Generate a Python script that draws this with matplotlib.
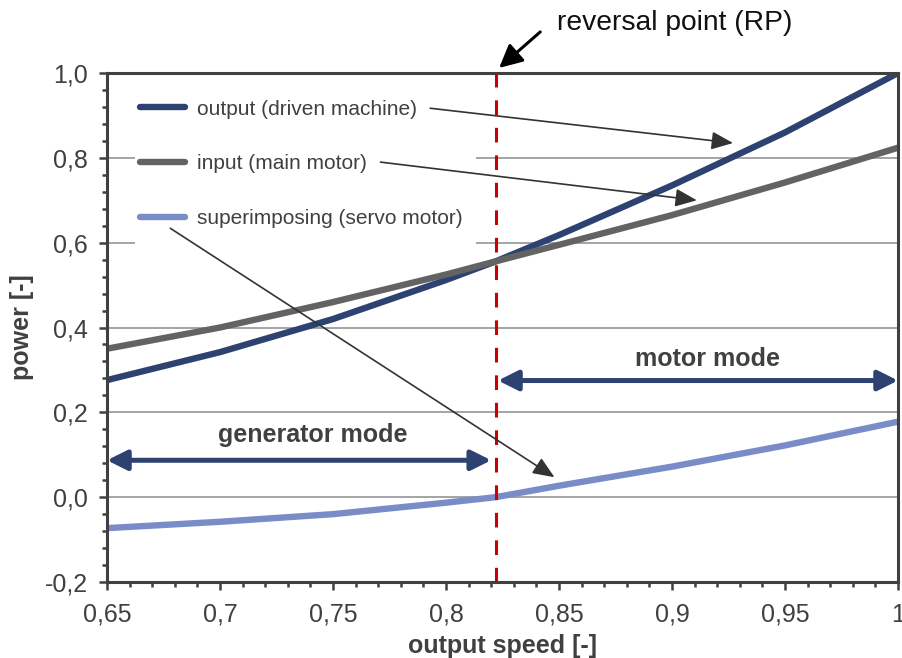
import matplotlib
matplotlib.use("Agg")
import matplotlib.pyplot as plt
from matplotlib.ticker import MultipleLocator, FixedLocator, FixedFormatter
from matplotlib.patches import Rectangle

plt.rcParams['font.family'] = ['Liberation Sans', 'DejaVu Sans']

# values
speed = [0.65, 0.70, 0.75, 0.80, 0.822, 0.85, 0.90, 0.95, 1.00]
output_power = [0.276, 0.342, 0.420, 0.512, 0.556, 0.618, 0.735, 0.860, 1.000]
input_power = [0.350, 0.400, 0.460, 0.525, 0.556, 0.595, 0.665, 0.742, 0.824]
servo_power = [-0.073, -0.058, -0.040, -0.013, 0.000, 0.027, 0.072, 0.122, 0.178]

series_labels = ["output (driven machine)", "input (main motor)",
                 "superimposing (servo motor)"]
series_colors = ["#2E4272", "#636363", "#7A8CC8"]

reversal_speed = 0.822
generator_range = [0.65, 0.82]
generator_level = 0.087
motor_range = [0.823, 1.0]
motor_level = 0.275

x_ticks = [0.65, 0.70, 0.75, 0.80, 0.85, 0.90, 0.95, 1.00]
x_tick_labels = ["0,65", "0,7", "0,75", "0,8", "0,85", "0,9", "0,95", "1"]
y_ticks = [-0.2, 0.0, 0.2, 0.4, 0.6, 0.8, 1.0]
y_tick_labels = ["-0,2", "0,0", "0,2", "0,4", "0,6", "0,8", "1,0"]

dark = "#404040"

fig = plt.figure(figsize=(9.03, 6.58), dpi=100)
ax = fig.add_axes([0.1185, 0.1155, 0.876, 0.7735])

ax.set_axisbelow(True)
ax.yaxis.grid(True, color="#8C8C8C", lw=1.1)

# white box behind the legend hides the gridlines
ax.add_patch(Rectangle((0.0354, 0.652), 0.431, 0.334, transform=ax.transAxes,
                       facecolor="white", edgecolor="none", zorder=1))

for vals, lab, col in zip([output_power, input_power, servo_power],
                          series_labels, series_colors):
    ax.plot(speed, vals, color=col, lw=4.6, label=lab, zorder=2)

ax.axvline(reversal_speed, color="#CC0000", lw=2.2, dashes=(4.8, 4.2), zorder=3)

ax.set_xlim(0.65, 1.0)
ax.set_ylim(-0.2, 1.0)
ax.xaxis.set_major_locator(FixedLocator(x_ticks))
ax.xaxis.set_major_formatter(FixedFormatter(x_tick_labels))
ax.yaxis.set_major_locator(FixedLocator(y_ticks))
ax.yaxis.set_major_formatter(FixedFormatter(y_tick_labels))
ax.xaxis.set_minor_locator(MultipleLocator(0.01))
ax.yaxis.set_minor_locator(MultipleLocator(0.04))

ax.tick_params(which="both", direction="out", color=dark, width=1.8)
ax.tick_params(which="major", length=5.8, labelsize=18, labelcolor=dark)
ax.tick_params(axis="x", which="major", pad=9)
ax.tick_params(axis="y", which="major", pad=8)
ax.tick_params(which="minor", length=3.6)

for sp in ax.spines.values():
    sp.set_color(dark)
    sp.set_linewidth(2.2)

ax.set_xlabel("output speed [-]", fontsize=18, fontweight="bold", color=dark, labelpad=5)
ax.set_ylabel("power [-]", fontsize=18, fontweight="bold", color=dark, labelpad=8)

leg = ax.legend(loc="upper left", bbox_to_anchor=(0.0417, 0.948), frameon=False,
                fontsize=15, handlelength=2.15, handletextpad=0.6,
                labelspacing=1.72, borderpad=0, borderaxespad=0)
for t in leg.get_texts():
    t.set_color(dark)
for h in leg.get_lines():
    h.set_linewidth(4.6)
    h.set_solid_capstyle("round")

# pointers from legend entries to the curves
pointer = dict(arrowstyle="-|>,head_length=0.6,head_width=0.25", color="#333333",
               lw=1.2, mutation_scale=22, shrinkA=0, shrinkB=0)
ax.annotate("", xy=(0.927, 0.835), xytext=(0.793, 0.917), arrowprops=pointer)
ax.annotate("", xy=(0.911, 0.700), xytext=(0.771, 0.790), arrowprops=pointer)
ax.annotate("", xy=(0.848, 0.047), xytext=(0.678, 0.634), arrowprops=pointer)

# operating mode ranges
mode_arrow = dict(arrowstyle="<|-|>,head_length=0.6,head_width=0.3",
                  color=series_colors[0], lw=3.6, mutation_scale=20,
                  shrinkA=0, shrinkB=0)
ax.annotate("", xy=(generator_range[1], generator_level),
            xytext=(generator_range[0], generator_level), arrowprops=mode_arrow)
ax.annotate("", xy=(motor_range[1], motor_level),
            xytext=(motor_range[0], motor_level), arrowprops=mode_arrow,
            annotation_clip=False)
ax.text(0.741, 0.147, "generator mode", ha="center", va="center",
        fontsize=18, fontweight="bold", color=dark)
ax.text(0.9155, 0.326, "motor mode", ha="center", va="center",
        fontsize=18, fontweight="bold", color=dark)

# reversal point callout
ax.annotate("", xy=(0.8235, 1.012), xytext=(0.8417, 1.097),
            arrowprops=dict(arrowstyle="-|>,head_length=0.7,head_width=0.35",
                            color="black", lw=2.2, mutation_scale=20,
                            shrinkA=0, shrinkB=0),
            annotation_clip=False)
ax.text(0.849, 1.117, "reversal point (RP)", ha="left", va="center",
        fontsize=20.3, color="#111111", clip_on=False)

fig.savefig("out.png", dpi=100)
